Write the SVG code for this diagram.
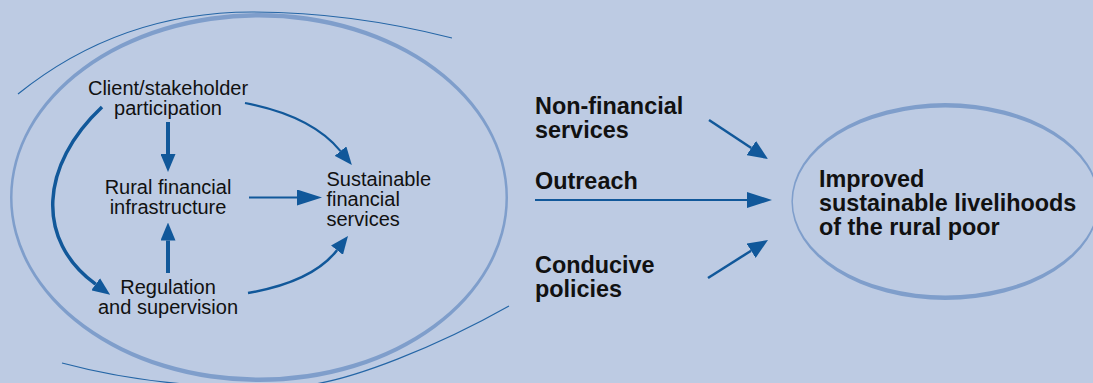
<svg xmlns="http://www.w3.org/2000/svg" width="1093" height="383" viewBox="0 0 1093 383">
<style>
  .bg{fill:#bdcbe3}
  .ring{fill:#7f9ecb;fill-rule:evenodd}
  .thin{fill:none;stroke:#2566a6;stroke-width:1.2}
  .arr{fill:none;stroke:#11589a;stroke-linecap:butt}
  .t{font-family:"Liberation Sans",Arial,Helvetica,sans-serif;font-size:20px;fill:#111}
  .b{font-family:"Liberation Sans",Arial,Helvetica,sans-serif;font-size:23.4px;font-weight:bold;fill:#111}
  .m{text-anchor:middle}
</style>
<defs>
  <marker id="hA" markerUnits="userSpaceOnUse" viewBox="0 0 18 15" markerWidth="18" markerHeight="15" refX="0" refY="7.5" orient="auto"><path d="M0,0 L18,7.5 L0,15 z" fill="#11589a"/></marker>
  <marker id="hB" markerUnits="userSpaceOnUse" viewBox="0 0 25 16" markerWidth="25" markerHeight="16" refX="0" refY="8" orient="auto"><path d="M0,0 L25,8 L0,16 z" fill="#11589a"/></marker>
  <marker id="hC" markerUnits="userSpaceOnUse" viewBox="0 0 20 17" markerWidth="20" markerHeight="17" refX="0" refY="8.5" orient="auto"><path d="M0,0 L20,8.5 L0,17 z" fill="#11589a"/></marker>
</defs>
<rect class="bg" x="0" y="0" width="1093" height="383"/>

<g id="frame">
  <path class="ring" d="M10,197.5 a249,184.5 0 1,0 498,0 a249,184.5 0 1,0 -498,0 Z M12.5,197.5 a246.5,180 0 1,0 493,0 a246.5,180 0 1,0 -493,0 Z"/>
  <path class="thin" d="M18,94 Q120,12 252,12 Q350,12 452,38"/>
  <path class="thin" d="M62,363 Q170,392 300,386 C350,382 440,345 509,306"/>
</g>

<g id="node-improved-ring">
  <path class="ring" d="M791.4,201.5 a154,98.5 0 1,0 308,0 a154,98.5 0 1,0 -308,0 Z M792.9,201.5 a152.5,94 0 1,0 305,0 a152.5,94 0 1,0 -305,0 Z"/>
</g>

<g id="connectors">
  <path class="arr" stroke-width="4" d="M168,122 V154" marker-end="url(#hA)"/>
  <path class="arr" stroke-width="4" d="M168,273 V240.5" marker-end="url(#hA)"/>
  <path class="arr" stroke-width="1.8" d="M249,197.5 H297" marker-end="url(#hB)"/>
  <path class="arr" stroke-width="2.2" d="M245,103 Q312,116 340.5,151.1" marker-end="url(#hA)"/>
  <path class="arr" stroke-width="2.5" d="M248,293 Q312.6,281.8 337,250.2" marker-end="url(#hA)"/>
  <path class="arr" stroke-width="3.5" d="M102,107 C40,165 35,240 95.6,284.2" marker-end="url(#hA)"/>
  <path class="arr" stroke-width="2.5" d="M709,120 L751.3,148" marker-end="url(#hC)"/>
  <path class="arr" stroke-width="1.8" d="M535,200 H747" marker-end="url(#hB)"/>
  <path class="arr" stroke-width="2.5" d="M708,278 L751.1,250.7" marker-end="url(#hC)"/>
</g>

<g id="node-client"><text class="t m" x="168" y="94.7">Client/stakeholder</text><text class="t m" x="168" y="115">participation</text></g>
<g id="node-rural"><text class="t m" x="168" y="193.8">Rural financial</text><text class="t m" x="168" y="214.1">infrastructure</text></g>
<g id="node-regulation"><text class="t m" x="168" y="293.5">Regulation</text><text class="t m" x="168" y="313.8">and supervision</text></g>
<g id="node-sustainable"><text class="t" x="326.5" y="185.8">Sustainable</text><text class="t" x="326.5" y="206.1">financial</text><text class="t" x="326.5" y="226.4">services</text></g>
<g id="node-nonfinancial"><text class="b" x="535" y="114.3">Non-financial</text><text class="b" x="535" y="138.3">services</text></g>
<g id="node-outreach"><text class="b" x="535" y="189">Outreach</text></g>
<g id="node-conducive"><text class="b" x="535" y="273.1">Conducive</text><text class="b" x="535" y="296.9">policies</text></g>
<g id="node-improved"><text class="b" x="819" y="187.4">Improved</text><text class="b" x="819" y="211.1">sustainable livelihoods</text><text class="b" x="819" y="234.8">of the rural poor</text></g>
</svg>
